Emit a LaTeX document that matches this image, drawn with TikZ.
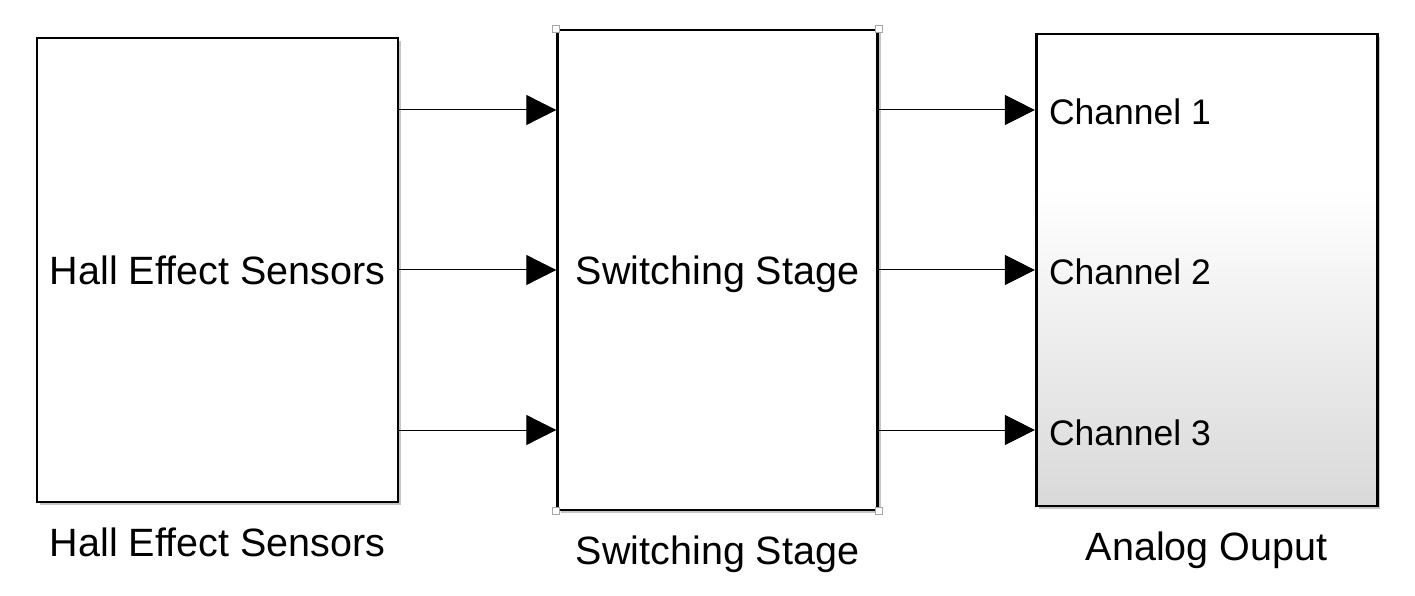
\documentclass[tikz,border=0pt]{standalone}
\usepackage{fontspec}
\setmainfont{Liberation Sans}
\usetikzlibrary{positioning,arrows.meta,shadows}
\pgfdeclareverticalshading{output fade}{100bp}{color(0bp)=(black!15); color(25bp)=(black!15); color(58.5bp)=(white); color(100bp)=(white)}
\tikzset{
    block/.style = {
        draw,
        line width=2.6pt,
        inner sep=0pt,
        text depth=0pt,
        fill=white,
        font=\fontsize{39.5}{47}\selectfont,
        drop shadow={shadow xshift=3pt, shadow yshift=-3pt, fill=black!45, opacity=0.5},
        },
    caption/.style = {
        inner sep=0pt,
        anchor=base,
        font=\fontsize{39.5}{47}\selectfont,
        },
    channel/.style = {
        inner sep=0pt,
        anchor=base west,
        font=\fontsize{35.5}{43}\selectfont,
        },
    signal/.style = {
        line width=1pt,
        -{Triangle[length=30pt,width=30pt]},
        },
    handle/.style = {
        draw=gray!70,
        fill=white,
        line width=0.8pt,
        minimum size=7pt,
        inner sep=0pt,
        },
}

\begin{document}
\begin{tikzpicture}
            \useasboundingbox (0,0) rectangle (1415pt,595pt);

            \node[block, minimum width=361pt, minimum height=464pt] (Hall) at (217.5pt,325pt) {Hall Effect Sensors};
            \node[block, minimum width=320pt, minimum height=480pt, right=157pt of Hall] (Switch) {Switching Stage};
            \node[block, minimum width=341pt, minimum height=472pt, shading=output fade, right=156pt of Switch] (Output) {};

            \foreach \corner in {north west,north east,south west,south east}
                \node[handle] at (Switch.\corner) {};

            \node[channel] (Ch1) at ([xshift=14pt,yshift=145pt]Output.west) {Channel 1};
            \node[channel] (Ch2) at ([xshift=14pt,yshift=-15pt]Output.west) {Channel 2};
            \node[channel] (Ch3) at ([xshift=14pt,yshift=-175pt]Output.west) {Channel 3};

            \node[caption] (HallName) at ([yshift=-53pt]Hall.south) {Hall Effect Sensors};
            \node[caption] (SwitchName) at ([yshift=-53pt]Switch.south) {Switching Stage};
            \node[caption] (OutputName) at ([yshift=-53pt]Output.south) {Analog Ouput};

            \draw[signal] ([yshift=160pt]Hall.east) -- ([yshift=160pt]Switch.west);
            \draw[signal] (Hall.east) -- (Switch.west);
            \draw[signal] ([yshift=-160pt]Hall.east) -- ([yshift=-160pt]Switch.west);
            \draw[signal] ([yshift=160pt]Switch.east) -- ([yshift=160pt]Output.west);
            \draw[signal] (Switch.east) -- (Output.west);
            \draw[signal] ([yshift=-160pt]Switch.east) -- ([yshift=-160pt]Output.west);
        \end{tikzpicture}
\end{document}
